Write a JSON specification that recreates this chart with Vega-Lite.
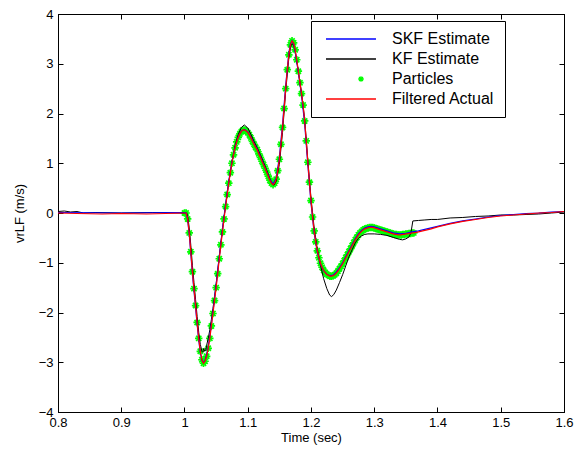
{
"$schema":"https://vega.github.io/schema/vega-lite/v6.json",
"width":506,"height":398,
"autosize":{"type":"none"},
"padding":{"left":58,"top":14,"right":20,"bottom":42},
"background":"#ffffff",
"datasets":{
"actual":[
{"t":0.8,"v":0.0},{"t":0.83,"v":-0.01},{"t":0.87,"v":-0.02},{"t":0.9,"v":-0.01},{"t":0.94,"v":-0.02},{"t":0.97,"v":-0.01},
{"t":1.0,"v":0.0},{"t":1.0025,"v":0.0},{"t":1.005,"v":-0.12},{"t":1.0075,"v":-0.4},{"t":1.01,"v":-0.78},{"t":1.0125,"v":-1.18},{"t":1.015,"v":-1.52},{"t":1.0175,"v":-1.86},{"t":1.02,"v":-2.2},{"t":1.0225,"v":-2.52},{"t":1.025,"v":-2.78},{"t":1.0275,"v":-2.95},{"t":1.03,"v":-3.02},{"t":1.0325,"v":-2.98},{"t":1.035,"v":-2.88},{"t":1.0375,"v":-2.72},{"t":1.04,"v":-2.52},{"t":1.0425,"v":-2.27},{"t":1.045,"v":-2.02},{"t":1.0475,"v":-1.76},{"t":1.05,"v":-1.5},{"t":1.0525,"v":-1.22},{"t":1.055,"v":-0.92},{"t":1.0575,"v":-0.64},{"t":1.06,"v":-0.38},{"t":1.0625,"v":-0.12},{"t":1.065,"v":0.13},{"t":1.0675,"v":0.37},{"t":1.07,"v":0.6},{"t":1.0725,"v":0.81},{"t":1.075,"v":1.0},{"t":1.0775,"v":1.17},{"t":1.08,"v":1.31},{"t":1.0825,"v":1.43},{"t":1.085,"v":1.52},{"t":1.0875,"v":1.59},{"t":1.09,"v":1.64},{"t":1.0925,"v":1.67},{"t":1.095,"v":1.67},{"t":1.0975,"v":1.65},{"t":1.1,"v":1.62},{"t":1.1025,"v":1.57},{"t":1.105,"v":1.51},{"t":1.1075,"v":1.44},{"t":1.11,"v":1.38},{"t":1.1125,"v":1.32},{"t":1.115,"v":1.27},{"t":1.1175,"v":1.19},{"t":1.12,"v":1.12},{"t":1.1225,"v":1.04},{"t":1.125,"v":0.97},{"t":1.1275,"v":0.9},{"t":1.13,"v":0.82},{"t":1.1325,"v":0.74},{"t":1.135,"v":0.66},{"t":1.1375,"v":0.6},{"t":1.14,"v":0.57},{"t":1.1425,"v":0.6},{"t":1.145,"v":0.68},{"t":1.1475,"v":0.85},{"t":1.15,"v":1.08},{"t":1.1525,"v":1.38},{"t":1.155,"v":1.72},{"t":1.1575,"v":2.1},{"t":1.16,"v":2.5},{"t":1.1625,"v":2.88},{"t":1.165,"v":3.18},{"t":1.1675,"v":3.38},{"t":1.17,"v":3.46},{"t":1.1725,"v":3.42},{"t":1.175,"v":3.28},{"t":1.1775,"v":3.08},{"t":1.18,"v":2.85},{"t":1.1825,"v":2.62},{"t":1.185,"v":2.4},{"t":1.1875,"v":2.17},{"t":1.19,"v":1.85},{"t":1.1925,"v":1.45},{"t":1.195,"v":1.02},{"t":1.1975,"v":0.62},{"t":1.2,"v":0.25},{"t":1.2025,"v":-0.08},{"t":1.205,"v":-0.36},{"t":1.2075,"v":-0.58},{"t":1.21,"v":-0.76},{"t":1.2125,"v":-0.9},{"t":1.215,"v":-1.01},{"t":1.2175,"v":-1.09},{"t":1.22,"v":-1.15},{"t":1.2225,"v":-1.2},{"t":1.225,"v":-1.23},{"t":1.2275,"v":-1.25},{"t":1.23,"v":-1.27},{"t":1.2325,"v":-1.27},{"t":1.235,"v":-1.26},{"t":1.2375,"v":-1.24},{"t":1.24,"v":-1.21},{"t":1.2425,"v":-1.17},{"t":1.245,"v":-1.12},{"t":1.2475,"v":-1.07},{"t":1.25,"v":-1.02},{"t":1.2525,"v":-0.96},{"t":1.255,"v":-0.9},{"t":1.2575,"v":-0.84},{"t":1.26,"v":-0.78},{"t":1.2625,"v":-0.72},{"t":1.265,"v":-0.66},{"t":1.2675,"v":-0.6},{"t":1.27,"v":-0.54},{"t":1.2725,"v":-0.49},{"t":1.275,"v":-0.44},{"t":1.2775,"v":-0.4},{"t":1.28,"v":-0.37},{"t":1.2825,"v":-0.34},{"t":1.285,"v":-0.32},{"t":1.2875,"v":-0.31},{"t":1.29,"v":-0.3},{"t":1.2925,"v":-0.29},{"t":1.295,"v":-0.29},{"t":1.2975,"v":-0.29},{"t":1.3,"v":-0.3},{"t":1.3025,"v":-0.31},{"t":1.305,"v":-0.32},{"t":1.3075,"v":-0.33},{"t":1.31,"v":-0.34},{"t":1.3125,"v":-0.35},{"t":1.315,"v":-0.36},{"t":1.3175,"v":-0.37},{"t":1.32,"v":-0.38},{"t":1.3225,"v":-0.39},{"t":1.325,"v":-0.4},{"t":1.3275,"v":-0.41},{"t":1.33,"v":-0.42},{"t":1.3325,"v":-0.43},{"t":1.335,"v":-0.43},{"t":1.3375,"v":-0.44},{"t":1.34,"v":-0.44},{"t":1.3425,"v":-0.44},{"t":1.345,"v":-0.43},{"t":1.3475,"v":-0.43},{"t":1.35,"v":-0.42},{"t":1.3525,"v":-0.42},{"t":1.355,"v":-0.41},{"t":1.3575,"v":-0.41},{"t":1.36,"v":-0.4},{"t":1.3625,"v":-0.4},
{"t":1.37,"v":-0.38},{"t":1.38,"v":-0.35},{"t":1.39,"v":-0.32},{"t":1.4,"v":-0.28},{"t":1.42,"v":-0.22},{"t":1.44,"v":-0.17},{"t":1.46,"v":-0.13},{"t":1.48,"v":-0.09},{"t":1.5,"v":-0.06},{"t":1.52,"v":-0.04},{"t":1.54,"v":-0.02},{"t":1.56,"v":0.0},{"t":1.58,"v":0.01},{"t":1.6,"v":0.03}
],
"skf":[
{"t":0.8,"v":0.01},{"t":0.9,"v":0.0},{"t":1.0,"v":0.01},{"t":1.0025,"v":0.0},{"t":1.005,"v":-0.14},{"t":1.0075,"v":-0.43},{"t":1.01,"v":-0.82},{"t":1.0125,"v":-1.22},{"t":1.015,"v":-1.56},{"t":1.0175,"v":-1.9},{"t":1.02,"v":-2.24},{"t":1.0225,"v":-2.55},{"t":1.025,"v":-2.8},{"t":1.0275,"v":-2.96},{"t":1.03,"v":-3.01},{"t":1.0325,"v":-2.96},{"t":1.035,"v":-2.85},{"t":1.0375,"v":-2.68},{"t":1.04,"v":-2.48},{"t":1.045,"v":-1.98},{"t":1.05,"v":-1.45},{"t":1.055,"v":-0.87},{"t":1.06,"v":-0.33},{"t":1.065,"v":0.18},{"t":1.07,"v":0.64},{"t":1.075,"v":1.03},{"t":1.08,"v":1.33},{"t":1.085,"v":1.53},{"t":1.09,"v":1.65},{"t":1.095,"v":1.68},{"t":1.1,"v":1.63},{"t":1.105,"v":1.52},{"t":1.11,"v":1.39},{"t":1.115,"v":1.28},{"t":1.12,"v":1.13},{"t":1.125,"v":0.98},{"t":1.13,"v":0.83},{"t":1.135,"v":0.67},{"t":1.14,"v":0.58},{"t":1.145,"v":0.7},{"t":1.15,"v":1.12},{"t":1.155,"v":1.78},{"t":1.16,"v":2.56},{"t":1.165,"v":3.22},{"t":1.1675,"v":3.4},{"t":1.17,"v":3.46},{"t":1.1725,"v":3.4},{"t":1.175,"v":3.25},{"t":1.18,"v":2.82},{"t":1.185,"v":2.37},{"t":1.19,"v":1.8},{"t":1.195,"v":0.97},{"t":1.2,"v":0.2},{"t":1.205,"v":-0.4},{"t":1.21,"v":-0.79},{"t":1.215,"v":-1.03},{"t":1.22,"v":-1.16},{"t":1.225,"v":-1.23},{"t":1.23,"v":-1.26},{"t":1.235,"v":-1.25},{"t":1.24,"v":-1.19},{"t":1.245,"v":-1.1},{"t":1.25,"v":-1.0},{"t":1.255,"v":-0.88},{"t":1.26,"v":-0.76},{"t":1.265,"v":-0.64},{"t":1.27,"v":-0.52},{"t":1.275,"v":-0.42},{"t":1.28,"v":-0.35},{"t":1.285,"v":-0.3},{"t":1.29,"v":-0.28},{"t":1.295,"v":-0.27},{"t":1.3,"v":-0.28},{"t":1.31,"v":-0.32},{"t":1.32,"v":-0.36},{"t":1.33,"v":-0.4},{"t":1.34,"v":-0.42},{"t":1.35,"v":-0.41},{"t":1.36,"v":-0.38},{"t":1.37,"v":-0.36},{"t":1.38,"v":-0.33},{"t":1.4,"v":-0.27},{"t":1.42,"v":-0.21},{"t":1.44,"v":-0.16},{"t":1.46,"v":-0.12},{"t":1.48,"v":-0.08},{"t":1.5,"v":-0.05},{"t":1.52,"v":-0.03},{"t":1.54,"v":-0.01},{"t":1.56,"v":0.0},{"t":1.58,"v":0.02},{"t":1.6,"v":0.03}
],
"kf":[
{"t":0.8,"v":0.03},{"t":0.81,"v":0.04},{"t":0.82,"v":0.02},{"t":0.83,"v":0.03},{"t":0.84,"v":0.0},{"t":0.86,"v":0.01},{"t":0.9,"v":0.0},{"t":0.95,"v":0.01},{"t":1.0,"v":0.0},{"t":1.0035,"v":0.0},{"t":1.005,"v":-0.06},{"t":1.0075,"v":-0.3},{"t":1.01,"v":-0.65},{"t":1.0125,"v":-1.05},{"t":1.015,"v":-1.4},{"t":1.0175,"v":-1.74},{"t":1.02,"v":-2.08},{"t":1.0225,"v":-2.4},{"t":1.025,"v":-2.64},{"t":1.0275,"v":-2.78},{"t":1.029,"v":-2.8},{"t":1.0305,"v":-2.72},{"t":1.032,"v":-2.78},{"t":1.0335,"v":-2.76},{"t":1.035,"v":-2.66},{"t":1.0375,"v":-2.52},{"t":1.04,"v":-2.35},{"t":1.0425,"v":-2.14},{"t":1.045,"v":-1.92},{"t":1.0475,"v":-1.68},{"t":1.05,"v":-1.43},{"t":1.055,"v":-0.88},{"t":1.06,"v":-0.33},{"t":1.065,"v":0.16},{"t":1.07,"v":0.62},{"t":1.075,"v":1.02},{"t":1.08,"v":1.36},{"t":1.085,"v":1.58},{"t":1.09,"v":1.72},{"t":1.0945,"v":1.77},{"t":1.1,"v":1.71},{"t":1.105,"v":1.58},{"t":1.11,"v":1.44},{"t":1.115,"v":1.31},{"t":1.12,"v":1.17},{"t":1.125,"v":1.02},{"t":1.13,"v":0.86},{"t":1.135,"v":0.69},{"t":1.1385,"v":0.58},{"t":1.1415,"v":0.56},{"t":1.145,"v":0.64},{"t":1.15,"v":0.98},{"t":1.155,"v":1.62},{"t":1.16,"v":2.45},{"t":1.165,"v":3.12},{"t":1.1685,"v":3.38},{"t":1.172,"v":3.4},{"t":1.175,"v":3.25},{"t":1.18,"v":2.85},{"t":1.185,"v":2.42},{"t":1.19,"v":1.88},{"t":1.195,"v":1.06},{"t":1.2,"v":0.3},{"t":1.205,"v":-0.3},{"t":1.21,"v":-0.72},{"t":1.215,"v":-1.05},{"t":1.22,"v":-1.32},{"t":1.225,"v":-1.52},{"t":1.2295,"v":-1.65},{"t":1.2325,"v":-1.68},{"t":1.236,"v":-1.64},{"t":1.24,"v":-1.55},{"t":1.245,"v":-1.4},{"t":1.25,"v":-1.24},{"t":1.255,"v":-1.06},{"t":1.26,"v":-0.88},{"t":1.265,"v":-0.74},{"t":1.27,"v":-0.6},{"t":1.275,"v":-0.51},{"t":1.28,"v":-0.46},{"t":1.285,"v":-0.43},{"t":1.29,"v":-0.42},{"t":1.3,"v":-0.42},{"t":1.31,"v":-0.43},{"t":1.32,"v":-0.45},{"t":1.33,"v":-0.49},{"t":1.34,"v":-0.53},{"t":1.345,"v":-0.54},{"t":1.35,"v":-0.52},{"t":1.355,"v":-0.48},{"t":1.358,"v":-0.4},{"t":1.361,"v":-0.16},{"t":1.37,"v":-0.15},{"t":1.38,"v":-0.14},{"t":1.39,"v":-0.13},{"t":1.4,"v":-0.13},{"t":1.42,"v":-0.1},{"t":1.44,"v":-0.09},{"t":1.46,"v":-0.07},{"t":1.48,"v":-0.06},{"t":1.5,"v":-0.04},{"t":1.52,"v":-0.04},{"t":1.54,"v":-0.03},{"t":1.56,"v":-0.02},{"t":1.58,"v":0.0},{"t":1.6,"v":0.02}
]
},
"layer":[
{
"data":{"name":"actual"},
"transform":[{"filter":"datum.t >= 0.9999 && datum.t <= 1.3626"}],
"mark":{"type":"point","filled":false,"size":56,"strokeWidth":1.7,"opacity":1},
"encoding":{
"x":{"field":"t","type":"quantitative","scale":{"domain":[0.8,1.6],"nice":false,"zero":false},"axis":{"orient":"bottom","values":[0.8,0.9,1.0,1.1,1.2,1.3,1.4,1.5,1.6],"format":"~g","title":"Time (sec)","labelPadding":9,"labelFlush":false,"titlePadding":2}},
"y":{"field":"v","type":"quantitative","scale":{"domain":[-4,4],"nice":false,"zero":false},"axis":{"orient":"left","values":[-4,-3,-2,-1,0,1,2,3,4],"title":"vrLF (m/s)","labelPadding":10,"titlePadding":12,"labelFlush":false,"encode":{"labels":{"update":{"dy":{"signal":"datum.value === -4 ? -2 : 0"}}}}}},
"shape":{"datum":"Particles","type":"nominal","scale":{"domain":["Particles"],"range":["M-1,0L1,0M0,-1L0,1M-0.7,-0.7L0.7,0.7M-0.7,0.7L0.7,-0.7"]},"legend":null},
"color":{"datum":"Particles","type":"nominal","scale":{"domain":["SKF Estimate","KF Estimate","Particles","Filtered Actual"],"range":["#0000ff","#000000","#00ff00","#ff0000"]},
"legend":{"orient":"none","legendX":253,"legendY":7,"title":null,"padding":10,"strokeColor":"#000000","fillColor":"#ffffff","symbolSize":196,"symbolOffset":4,"labelOffset":51,"labelFont":"Liberation Sans","labelFontSize":16,"labelColor":"#000000","rowPadding":4,"labelLimit":300,
"symbolType":{"expr":"datum.value === 'Particles' ? 'M3.6,0L4.4,0M4,-0.4L4,0.4M3.72,-0.28L4.28,0.28M3.72,0.28L4.28,-0.28' : 'M-1,0L6.14,0'"},
"symbolStrokeWidth":1.3,"symbolFillColor":"transparent",
"encode":{"symbols":{"update":{"shape":{"signal":"datum.value === 'Particles' ? 'M3.6,0L4.4,0M4,-0.4L4,0.4M3.72,-0.28L4.28,0.28M3.72,0.28L4.28,-0.28' : 'M-1,0L6.14,0'"},"stroke":{"scale":"color","field":"value"},"fill":{"value":"transparent"},"strokeWidth":{"value":1.3},"size":{"value":196},"opacity":{"value":1}}}}}}
}
},
{
"data":{"name":"kf"},
"mark":{"type":"line","strokeWidth":1,"interpolate":"linear"},
"encoding":{
"x":{"field":"t","type":"quantitative","axis":null},
"y":{"field":"v","type":"quantitative","axis":null},
"color":{"datum":"KF Estimate","type":"nominal"}
}
},
{
"data":{"name":"skf"},
"mark":{"type":"line","strokeWidth":1.2},
"encoding":{
"x":{"field":"t","type":"quantitative","axis":null},
"y":{"field":"v","type":"quantitative","axis":null},
"color":{"datum":"SKF Estimate","type":"nominal"}
}
},
{
"data":{"name":"actual"},
"mark":{"type":"line","strokeWidth":1.2},
"encoding":{
"x":{"field":"t","type":"quantitative","axis":{"orient":"top","values":[0.8,0.9,1.0,1.1,1.2,1.3,1.4,1.5,1.6],"labels":false,"title":null}},
"y":{"field":"v","type":"quantitative","axis":{"orient":"right","values":[-4,-3,-2,-1,0,1,2,3,4],"labels":false,"title":null}},
"color":{"datum":"Filtered Actual","type":"nominal"}
}
}
],
"resolve":{"axis":{"x":"independent","y":"independent"}},
"config":{
"view":{"stroke":"#000000","strokeWidth":1},
"axis":{"domainColor":"#000000","tickColor":"#000000","labelColor":"#000000","titleColor":"#000000","labelFont":"Liberation Sans","titleFont":"Liberation Sans","labelFontSize":13,"titleFontSize":13,"titleFontWeight":"normal","grid":false,"tickSize":-5,"tickWidth":1,"domainWidth":1}
}
}
